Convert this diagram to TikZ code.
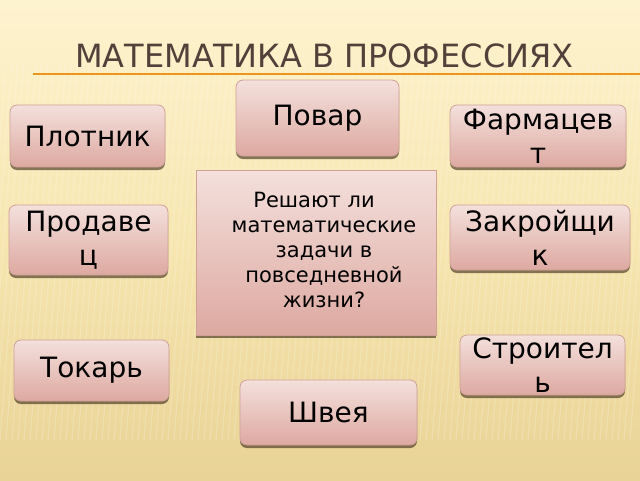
\documentclass[tikz,border=0pt]{standalone}
\usepackage{fontspec}
\setmainfont{DejaVu Sans}
\usetikzlibrary{shadows}
\definecolor{bgtop}{RGB}{253,243,207}
\definecolor{bgmid}{RGB}{247,230,176}
\definecolor{bgbot}{RGB}{233,211,150}
\definecolor{boxtop}{RGB}{244,224,220}
\definecolor{boxbot}{RGB}{221,169,161}
\definecolor{boxrim}{RGB}{206,160,150}
\definecolor{titlegray}{RGB}{80,66,58}
\definecolor{ruleorange}{RGB}{236,150,30}
\tikzset{
  profbox/.style={draw=boxrim,line width=.8pt,rounded corners=7pt,
    top color=boxtop,bottom color=boxbot,align=center,inner sep=2pt,
    font=\fontsize{28}{34}\selectfont,
    drop shadow={shadow xshift=0pt,shadow yshift=-3pt,fill=black!70!brown,opacity=.6}},
  qbox/.style={profbox,rounded corners=0pt,font=\fontsize{21}{25}\selectfont}
}
\begin{document}
\begin{tikzpicture}[x=1pt,y=-1pt]
    \useasboundingbox (0,0) rectangle (640,480);
    \shade[top color=bgtop,bottom color=bgbot,middle color=bgmid] (0,0) rectangle (640,480);
    \begin{scope}
      \clip (0,0) rectangle (640,480);
      \foreach \s in {0,6,...,660}
        \draw[white,opacity=.18,line width=1.2pt] (\s-30,440) -- (\s,60);
    \end{scope}
    % title and rule
    \node[anchor=base west,inner sep=0pt,text=titlegray,font=\fontsize{32}{38}\selectfont] (title) at (75,67) {МАТЕМАТИКА В ПРОФЕССИЯХ};
    \coordinate (rl) at (33,73.5);
    \coordinate (rr) at (640,73.5);
    \draw[ruleorange,line width=2pt] (rl) -- (rr);
    % boxes
    \node[profbox,minimum width=163pt,minimum height=76pt] (povar) at (317.5,118) {Повар};
    \node[profbox,minimum width=155pt,minimum height=62pt] (plotnik) at (87.5,136) {Плотник};
    \node[profbox,minimum width=176pt,minimum height=62pt] (farm) at (538,136) {Фармацев\\т};
    \node[qbox,minimum width=240pt,minimum height=165pt] (q) at (316,252.5)
      {\begin{tabular}{@{\hspace{16pt}}c@{}}Решают ли\hspace*{20pt}\\математические\\задачи в\\повседневной\\жизни?\end{tabular}};
    \node[profbox,minimum width=159pt,minimum height=70pt] (prodavec) at (88.5,240) {Продаве\\ц};
    \node[profbox,minimum width=180pt,minimum height=65pt] (zakr) at (540,237.5) {Закройщи\\к};
    \node[profbox,minimum width=155pt,minimum height=61pt] (tokar) at (91.5,370.5) {Токарь};
    \node[profbox,minimum width=165pt,minimum height=60pt] (stroit) at (542.5,365) {Строител\\ь};
    \node[profbox,minimum width=177pt,minimum height=65pt] (shveya) at (328.5,412.5) {Швея};
\end{tikzpicture}
\end{document}
